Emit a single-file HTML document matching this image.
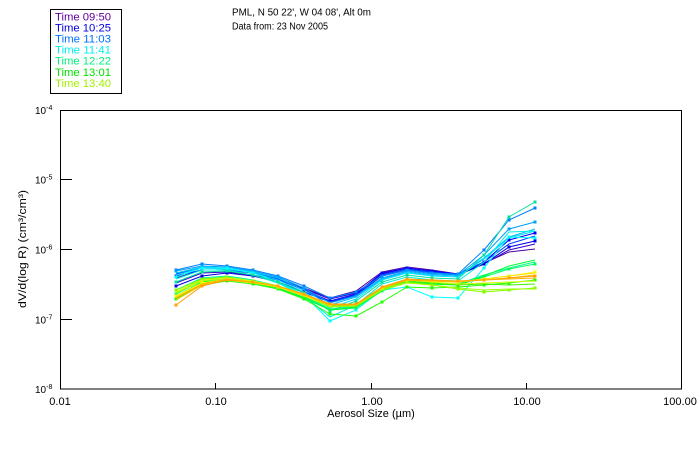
<!DOCTYPE html>
<html><head><meta charset="utf-8"><style>
html,body{margin:0;padding:0;background:#fff;}
svg{display:block;font-family:"Liberation Sans",sans-serif;}
</style></head><body>
<svg width="700" height="450" viewBox="0 0 700 450" xmlns="http://www.w3.org/2000/svg">
<defs>
<marker id="m3" markerWidth="3" markerHeight="3" refX="1.5" refY="1.5" markerUnits="userSpaceOnUse"><rect width="3" height="3" fill="#0000ff"/></marker>
<marker id="m4" markerWidth="3" markerHeight="3" refX="1.5" refY="1.5" markerUnits="userSpaceOnUse"><rect width="3" height="3" fill="#0000e0"/></marker>
<marker id="m6" markerWidth="3" markerHeight="3" refX="1.5" refY="1.5" markerUnits="userSpaceOnUse"><rect width="3" height="3" fill="#0080ff"/></marker>
<marker id="m7" markerWidth="3" markerHeight="3" refX="1.5" refY="1.5" markerUnits="userSpaceOnUse"><rect width="3" height="3" fill="#00a0ff"/></marker>
<marker id="m10" markerWidth="3" markerHeight="3" refX="1.5" refY="1.5" markerUnits="userSpaceOnUse"><rect width="3" height="3" fill="#00ffff"/></marker>
<marker id="m12" markerWidth="3" markerHeight="3" refX="1.5" refY="1.5" markerUnits="userSpaceOnUse"><rect width="3" height="3" fill="#00e0a0"/></marker>
<marker id="m14" markerWidth="3" markerHeight="3" refX="1.5" refY="1.5" markerUnits="userSpaceOnUse"><rect width="3" height="3" fill="#00ff60"/></marker>
<marker id="m16" markerWidth="3" markerHeight="3" refX="1.5" refY="1.5" markerUnits="userSpaceOnUse"><rect width="3" height="3" fill="#20ff00"/></marker>
<marker id="m18" markerWidth="3" markerHeight="3" refX="1.5" refY="1.5" markerUnits="userSpaceOnUse"><rect width="3" height="3" fill="#80ff00"/></marker>
<marker id="m21" markerWidth="3" markerHeight="3" refX="1.5" refY="1.5" markerUnits="userSpaceOnUse"><rect width="3" height="3" fill="#ffff00"/></marker>
<marker id="m24" markerWidth="3" markerHeight="3" refX="1.5" refY="1.5" markerUnits="userSpaceOnUse"><rect width="3" height="3" fill="#ffa000"/></marker>
</defs>

<!-- Legend -->
<rect x="50.5" y="9.5" width="71" height="84" fill="none" stroke="#000" stroke-width="1" shape-rendering="crispEdges"/>
<g font-size="11">
<text x="55" y="20.3" fill="#6000a0" textLength="56" lengthAdjust="spacingAndGlyphs">Time 09:50</text>
<text x="55" y="31.4" fill="#0000e0" textLength="56" lengthAdjust="spacingAndGlyphs">Time 10:25</text>
<text x="55" y="42.5" fill="#0070ff" textLength="56" lengthAdjust="spacingAndGlyphs">Time 11:03</text>
<text x="55" y="53.6" fill="#00f0f0" textLength="56" lengthAdjust="spacingAndGlyphs">Time 11:41</text>
<text x="55" y="64.7" fill="#00f080" textLength="56" lengthAdjust="spacingAndGlyphs">Time 12:22</text>
<text x="55" y="75.8" fill="#00e000" textLength="56" lengthAdjust="spacingAndGlyphs">Time 13:01</text>
<text x="55" y="86.9" fill="#a0f000" textLength="56" lengthAdjust="spacingAndGlyphs">Time 13:40</text>
</g>

<!-- Title -->
<text x="232" y="15.5" font-size="10" fill="#000" textLength="139" lengthAdjust="spacingAndGlyphs">PML, N 50 22', W 04 08', Alt 0m</text>
<text x="232" y="29.5" font-size="10" fill="#000" textLength="96" lengthAdjust="spacingAndGlyphs">Data from: 23 Nov 2005</text>

<!-- Axes -->
<g stroke="#000" stroke-width="1" shape-rendering="crispEdges" fill="none">
<rect x="60.5" y="110.5" width="621" height="278.5"/>
<line x1="60" y1="179.5" x2="72" y2="179.5"/>
<line x1="60" y1="249.5" x2="72" y2="249.5"/>
<line x1="60" y1="319.5" x2="72" y2="319.5"/>
<line x1="215.5" y1="383" x2="215.5" y2="389"/>
<line x1="371.5" y1="383" x2="371.5" y2="389"/>
<line x1="526.5" y1="383" x2="526.5" y2="389"/>
</g>

<!-- Y tick labels -->
<g font-size="10" fill="#000">
<text x="35" y="114">10<tspan font-size="7" dy="-4">-4</tspan></text>
<text x="35" y="183.5">10<tspan font-size="7" dy="-4">-5</tspan></text>
<text x="35" y="253.5">10<tspan font-size="7" dy="-4">-6</tspan></text>
<text x="35" y="323.5">10<tspan font-size="7" dy="-4">-7</tspan></text>
<text x="35" y="393">10<tspan font-size="7" dy="-4">-8</tspan></text>
</g>

<!-- X tick labels -->
<g font-size="11" fill="#000" text-anchor="middle">
<text x="60" y="405">0.01</text>
<text x="216" y="405">0.10</text>
<text x="372" y="405">1.00</text>
<text x="527" y="405">10.00</text>
<text x="680" y="405">100.00</text>
</g>
<text x="371" y="417" font-size="11" text-anchor="middle" fill="#000">Aerosol Size (µm)</text>
<text transform="translate(26,249) rotate(-90)" font-size="11" text-anchor="middle" fill="#000" textLength="118" lengthAdjust="spacingAndGlyphs">dV/d(log R) (cm³/cm³)</text>

<!-- Data -->
<g fill="none" stroke-width="1">
<polyline stroke="#5000a0" points="176,278 202,270 227,270 253,273 278,279 304,288 330,298 356,291 382,272 407,267 432,270 458,274 484,263 509,252 535,249"/>
<polyline stroke="#3000d0" points="176,283 202,273 227,272 253,275 278,280 304,289 330,299 356,293 382,274 407,268 432,271 458,275 484,264 509,250 535,244"/>
<polyline stroke="#0000ff" marker-start="url(#m3)" marker-mid="url(#m3)" marker-end="url(#m3)" points="176,276 202,270 227,270 253,273 278,279 304,290 330,301 356,294 382,273 407,268 432,271 458,274 484,262 509,240 535,233"/>
<polyline stroke="#0000e0" marker-start="url(#m4)" marker-mid="url(#m4)" marker-end="url(#m4)" points="176,286 202,276 227,273 253,276 278,282 304,292 330,302 356,295 382,276 407,270 432,272 458,275 484,264 509,247 535,241"/>
<polyline stroke="#0040ff" points="176,274 202,268 227,269 253,273 278,279 304,290 330,302 356,295 382,275 407,269 432,272 458,275 484,262 509,244 535,236"/>
<polyline stroke="#0080ff" marker-start="url(#m6)" marker-mid="url(#m6)" marker-end="url(#m6)" points="176,270 202,264 227,266 253,270 278,276 304,286 330,298 356,292 382,276 407,270 432,273 458,274 484,250 509,220 535,208"/>
<polyline stroke="#00a0ff" marker-start="url(#m7)" marker-mid="url(#m7)" marker-end="url(#m7)" points="176,271 202,266 227,267 253,271 278,277 304,288 330,303 356,296 382,278 407,271 432,274 458,275 484,255 509,229 535,222"/>
<polyline stroke="#00c0ff" points="176,273 202,267 227,268 253,272 278,278 304,290 330,305 356,297 382,279 407,272 432,275 458,276 484,258 509,237 535,229"/>
<polyline stroke="#00e0ff" points="176,275 202,268 227,269 253,273 278,280 304,292 330,308 356,299 382,280 407,273 432,276 458,277 484,259 509,238 535,231"/>
<polyline stroke="#00ffff" marker-start="url(#m10)" marker-mid="url(#m10)" marker-end="url(#m10)" points="176,277 202,268 227,268 253,273 278,282 304,295 330,321 356,310 382,290 407,287 432,297 458,298 484,268 509,237 535,238"/>
<polyline stroke="#00f0e0" points="176,279 202,270 227,270 253,275 278,283 304,296 330,317 356,305 382,284 407,277 432,280 458,281 484,262 509,232 535,231"/>
<polyline stroke="#00e0a0" marker-start="url(#m12)" marker-mid="url(#m12)" marker-end="url(#m12)" points="176,282 202,272 227,271 253,275 278,282 304,293 330,311 356,301 382,282 407,275 432,278 458,279 484,255 509,217 535,202"/>
<polyline stroke="#00ff90" points="176,290 202,278 227,276 253,280 278,286 304,296 330,309 356,306 382,289 407,281 432,283 458,284 484,275 509,268 535,262"/>
<polyline stroke="#00ff60" marker-start="url(#m14)" marker-mid="url(#m14)" marker-end="url(#m14)" points="176,294 202,280 227,278 253,282 278,287 304,297 330,310 356,308 382,291 407,282 432,284 458,285 484,277 509,269 535,264"/>
<polyline stroke="#00ff30" points="176,296 202,282 227,279 253,283 278,288 304,298 330,310 356,307 382,290 407,282 432,284 458,285 484,276 509,266 535,260"/>
<polyline stroke="#20ff00" marker-start="url(#m16)" marker-mid="url(#m16)" marker-end="url(#m16)" points="176,299 202,285 227,281 253,284 278,289 304,299 330,314 356,316 382,302 407,287 432,288 458,287 484,285 509,283 535,280"/>
<polyline stroke="#40f000" points="176,292 202,280 227,278 253,282 278,287 304,296 330,306 356,305 382,289 407,281 432,283 458,285 484,284 509,285 535,284"/>
<polyline stroke="#80ff00" marker-start="url(#m18)" marker-mid="url(#m18)" marker-end="url(#m18)" points="176,290 202,279 227,277 253,281 278,286 304,295 330,306 356,305 382,289 407,282 432,285 458,289 484,292 509,290 535,288"/>
<polyline stroke="#a0ff00" points="176,293 202,281 227,278 253,282 278,287 304,296 330,307 356,306 382,290 407,283 432,285 458,288 484,290 509,289 535,289"/>
<polyline stroke="#d0ff00" points="176,292 202,280 227,278 253,281 278,286 304,295 330,305 356,304 382,288 407,280 432,282 458,284 484,283 509,282 535,281"/>
<polyline stroke="#ffff00" marker-start="url(#m21)" marker-mid="url(#m21)" marker-end="url(#m21)" points="176,296 202,283 227,279 253,282 278,287 304,295 330,305 356,304 382,288 407,280 432,281 458,282 484,279 509,276 535,272"/>
<polyline stroke="#ffe000" points="176,297 202,284 227,280 253,283 278,287 304,296 330,305 356,304 382,288 407,280 432,281 458,282 484,279 509,276 535,273"/>
<polyline stroke="#ffc000" points="176,300 202,285 227,280 253,282 278,286 304,295 330,305 356,305 382,288 407,280 432,281 458,282 484,280 509,278 535,275"/>
<polyline stroke="#ffa000" marker-start="url(#m24)" marker-mid="url(#m24)" marker-end="url(#m24)" points="176,305 202,286 227,280 253,282 278,286 304,294 330,304 356,304 382,287 407,279 432,280 458,281 484,280 509,278 535,276"/>
<polyline stroke="#ffb000" points="176,298 202,284 227,279 253,282 278,286 304,294 330,305 356,305 382,288 407,280 432,281 458,281 484,280 509,279 535,278"/>
</g>
</svg>
</body></html>
